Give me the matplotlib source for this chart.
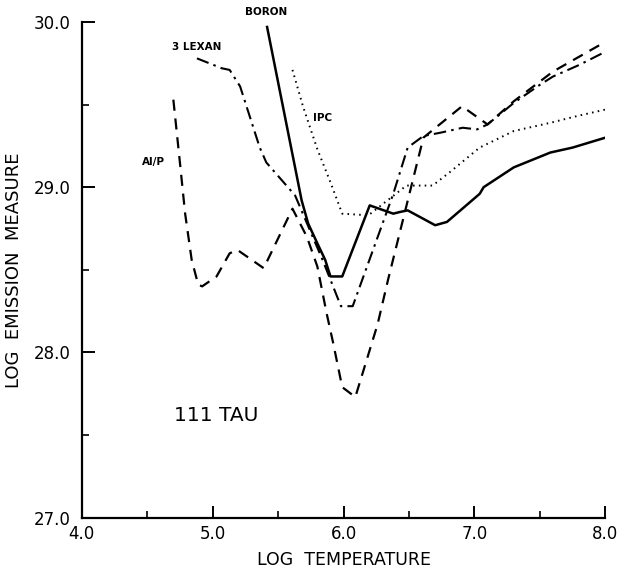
import matplotlib.pyplot as plt
from matplotlib.ticker import MultipleLocator

# values (log T, log EM)
alp_t = [4.70, 4.75, 4.79, 4.84, 4.89, 4.92, 5.03, 5.13, 5.19, 5.39, 5.61, 5.72, 5.80, 5.87,
         5.92, 5.99, 6.09, 6.26, 6.34, 6.61, 6.905, 7.10, 7.30, 7.50, 7.60, 7.80, 8.00]
alp_em = [29.53, 29.15, 28.84, 28.56, 28.41, 28.40, 28.46, 28.60, 28.62, 28.51, 28.87, 28.70,
          28.52, 28.24, 28.06, 27.79, 27.73, 28.17, 28.44, 29.30, 29.49, 29.38, 29.52, 29.64,
          29.70, 29.79, 29.88]

lexan_t = [4.88, 5.07, 5.13, 5.21, 5.36, 5.41, 5.63, 5.84, 5.98, 6.07, 6.38, 6.49,
           6.61, 6.74, 6.91, 7.02, 7.10, 7.30, 7.50, 7.60, 7.80, 8.00]
lexan_em = [29.78, 29.72, 29.71, 29.61, 29.24, 29.15, 28.95, 28.56, 28.28, 28.28, 28.96, 29.24,
            29.31, 29.33, 29.36, 29.35, 29.38, 29.51, 29.62, 29.67, 29.74, 29.82]

boron_t = [5.416, 5.68, 5.73, 5.80, 5.86, 5.90, 5.99, 6.20, 6.38, 6.43,
           6.49, 6.70, 6.79, 7.04, 7.07, 7.30, 7.58, 7.75, 8.00]
boron_em = [29.97, 28.92, 28.78, 28.66, 28.56, 28.46, 28.46, 28.89, 28.84,
            28.85, 28.86, 28.77, 28.79, 28.96, 29.00, 29.12, 29.21, 29.24, 29.30]

ipc_t = [5.61, 5.69, 5.80, 5.90, 5.99, 6.19, 6.48, 6.68, 6.81, 7.04, 7.30, 7.58, 7.78, 8.00]
ipc_em = [29.71, 29.49, 29.23, 29.03, 28.84, 28.83, 29.01, 29.01, 29.09, 29.24, 29.34, 29.39,
          29.43, 29.47]

fig = plt.figure(figsize=(6.21, 5.70), dpi=100)
ax = fig.add_axes([0.1316, 0.0918, 0.8432, 0.8696])

ax.plot(alp_t, alp_em, color="black", lw=1.6, linestyle=(0, (5, 3.5)))
ax.plot(lexan_t, lexan_em, color="black", lw=1.5, linestyle=(0, (6, 2.5, 1.2, 2.5)))
ax.plot(boron_t, boron_em, color="black", lw=1.8, linestyle="-")
ax.plot(ipc_t, ipc_em, color="black", lw=1.4, linestyle=(0, (0.8, 2.2)))

ax.set_xlim(4.0, 8.0)
ax.set_ylim(27.0, 30.0)
for side in ("top", "right"):
    ax.spines[side].set_visible(False)
for side in ("left", "bottom"):
    ax.spines[side].set_linewidth(1.6)

ax.xaxis.set_major_locator(MultipleLocator(1.0))
ax.xaxis.set_minor_locator(MultipleLocator(0.5))
ax.yaxis.set_major_locator(MultipleLocator(1.0))
ax.yaxis.set_minor_locator(MultipleLocator(0.5))
ax.xaxis.set_major_formatter(lambda v, p: f"{v:.1f}")
ax.yaxis.set_major_formatter(lambda v, p: f"{v:.1f}")
ax.tick_params(which="major", direction="in", length=9, width=1.4, labelsize=12, pad=5)
ax.tick_params(which="minor", direction="in", length=5, width=1.2)
ax.tick_params(axis="y", pad=8)

ax.set_xlabel("LOG  TEMPERATURE", fontsize=12.5, labelpad=6)
ax.set_ylabel("LOG  EMISSION  MEASURE", fontsize=13, labelpad=8)

ax.text(5.41, 30.06, "BORON", fontsize=7.5, fontweight="bold", ha="center", va="center",
        clip_on=False)
ax.text(4.88, 29.85, "3 LEXAN", fontsize=7.5, fontweight="bold", ha="center", va="center")
ax.text(5.84, 29.42, "IPC", fontsize=7.5, fontweight="bold", ha="center", va="center")
ax.text(4.55, 29.15, "Al/P", fontsize=7.5, fontweight="bold", ha="center", va="center")
ax.text(5.03, 27.62, "111 TAU", fontsize=14.5, ha="center", va="center")

fig.savefig("out.png", dpi=100)
